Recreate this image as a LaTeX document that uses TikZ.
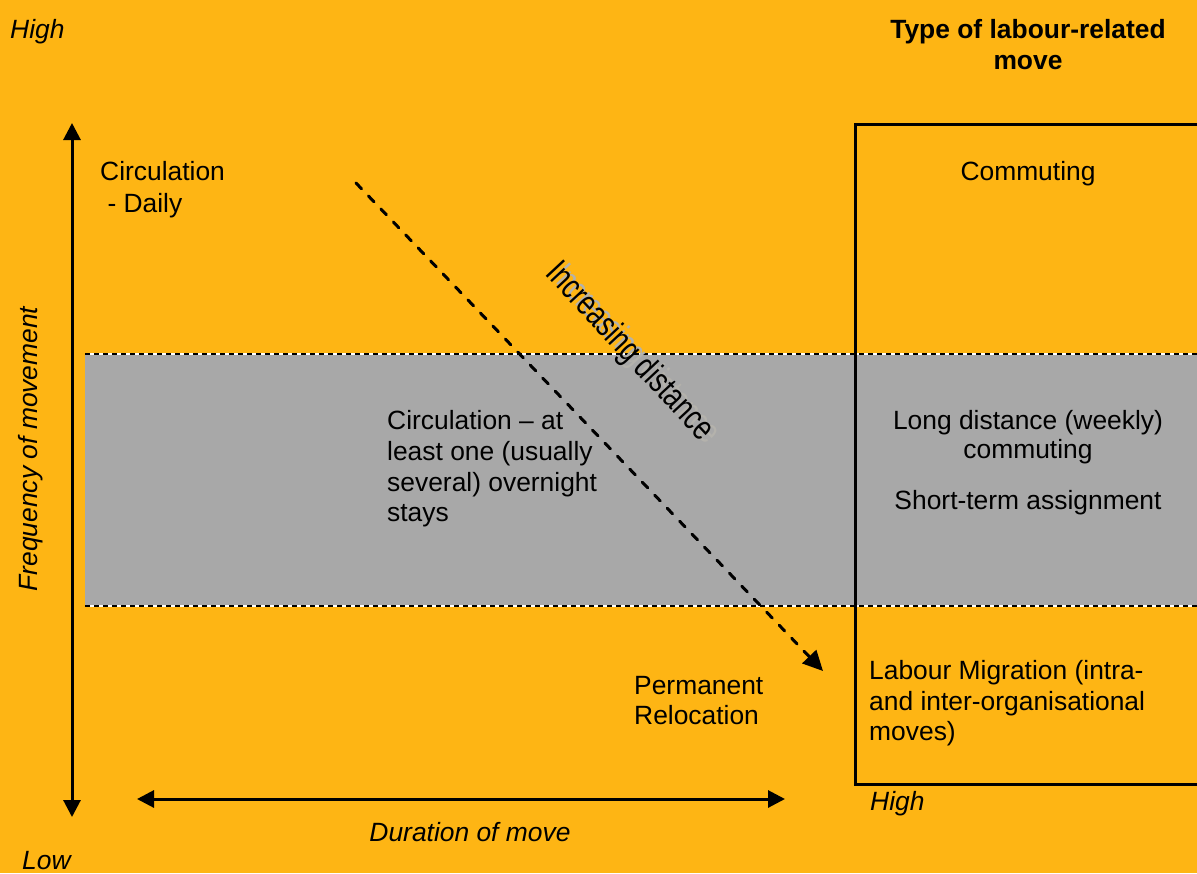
\documentclass[tikz,border=0pt]{standalone}
\usepackage{fontspec}
\setmainfont{Liberation Sans}
\usetikzlibrary{arrows.meta}
\definecolor{bgorange}{RGB}{254,181,20}
\definecolor{bandgray}{RGB}{168,168,168}
\definecolor{shadowgray}{RGB}{180,178,172}
\begin{document}
\begin{tikzpicture}[x=1pt,y=-1pt,
  lbl/.style={inner sep=0pt, font=\fontsize{26.4}{31}\selectfont},
  ital/.style={lbl, font=\fontsize{26.4}{31}\selectfont\itshape},
  axisline/.style={line width=3pt, {Triangle[length=17pt,width=17pt]}-{Triangle[length=17pt,width=17pt]}},
  trendline/.style={line width=3pt, line cap=round, dash pattern=on 8pt off 10pt, -{Triangle[length=20pt,width=19pt]}},
  bandedge/.style={line width=2.5pt, dash pattern=on 5pt off 4pt},
  boxline/.style={line width=3pt}
]
% background and page size
\fill[bgorange] (0,0) rectangle (1197,873);
\useasboundingbox (0,0) rectangle (1197,873);

% grey band for overnight circulation
\fill[bandgray] (85,354) rectangle (1197,606);
\coordinate (bandTL) at (85,354);
\coordinate (bandTR) at (1197,354);
\coordinate (bandBL) at (85,606);
\coordinate (bandBR) at (1197,606);
\draw[white, line width=2.5pt] (bandTL) -- (bandTR);
\draw[bandedge] (bandTL) -- (bandTR);
\draw[white, line width=2.5pt] (bandBL) -- (bandBR);
\draw[bandedge] (bandBL) -- (bandBR);

% right column frame
\coordinate (boxTR) at (1205,124.5);
\coordinate (boxTL) at (855,124.5);
\coordinate (boxBL) at (855,784);
\coordinate (boxBR) at (1205,784);
\draw[boxline] (boxTR) -- (boxTL) -- (boxBL) -- (boxBR);

% axes
\coordinate (vtop) at (72,123);
\coordinate (vbot) at (72,817);
\draw[axisline] (vbot) -- (vtop);
\coordinate (hleft) at (137,799);
\coordinate (hright) at (785,799);
\draw[axisline] (hleft) -- (hright);

% distance trend
\coordinate (dstart) at (356,183);
\coordinate (dend) at (823,671);
\draw[trendline] (dstart) -- (dend);

% distance label with its soft shadow
\node[text=shadowgray, rotate=-47, inner sep=0pt] (distshadow) at (635,355)
  {\scalebox{0.76}[1]{\fontsize{35}{40}\selectfont Increasing distance}};
\node[rotate=-47, inner sep=0pt] (distlabel) at (629,352)
  {\scalebox{0.76}[1]{\fontsize{35}{40}\selectfont Increasing distance}};

% axis labels
\node[ital, anchor=north west] (hightop) at (10,19.5) {High};
\node[ital, anchor=north west] (lowlbl) at (22,851.5) {Low};
\node[ital, anchor=north west] (highright) at (870,791.5) {High};
\node[ital, anchor=north] (duration) at (470,822.5) {Duration of move};
\node[ital, rotate=90] (frequency) at (31,449) {Frequency of movement};

% column heading
\node[lbl, anchor=north, align=center, font=\fontsize{26.4}{31}\selectfont\bfseries] (heading) at (1028,19.5)
  {Type of labour-related\\move};

% left-hand descriptions
\node[lbl, anchor=north west, align=left, font=\fontsize{26.4}{32}\selectfont] (daily) at (100,161.5)
  {Circulation\\\ - Daily};
\node[lbl, anchor=north west, align=left, font=\fontsize{26.4}{30.7}\selectfont] (overnight) at (387,410.5)
  {Circulation -- at\\least one (usually\\several) overnight\\stays};
\node[lbl, anchor=north west, align=left, font=\fontsize{26.4}{30}\selectfont] (relocation) at (634,676.5)
  {Permanent\\Relocation};

% move types
\node[lbl, anchor=north] (commuting) at (1028,161.5) {Commuting};
\node[lbl, anchor=north, align=center, font=\fontsize{26.4}{29}\selectfont] (weekly) at (1028,410.5)
  {Long distance (weekly)\\commuting};
\node[lbl, anchor=north] (shortterm) at (1028,490.5) {Short-term assignment};
\node[lbl, anchor=north west, align=left, font=\fontsize{26.4}{30.5}\selectfont] (migration) at (869,660.5)
  {Labour Migration (intra-\\and inter-organisational\\moves)};
\end{tikzpicture}
\end{document}
